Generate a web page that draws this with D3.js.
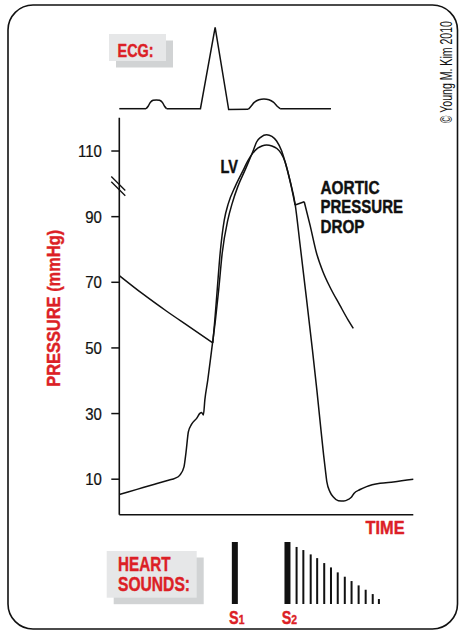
<!DOCTYPE html>
<html>
<head>
<meta charset="utf-8">
<script src="https://cdn.jsdelivr.net/npm/d3@7"></script>
<style>
  html, body { margin: 0; padding: 0; background: #fff; }
  svg { display: block; }
</style>
</head>
<body>
<svg id="chart" width="460" height="630"></svg>
<script>
// ---- data -------------------------------------------------------------
// time runs 0–100 over one cardiac cycle (arbitrary units); pressure in mmHg
const timeDomain = [0, 100];
const pressureDomain = [-1, 120];
const pressureTicks = [10, 30, 50, 70, 90, 110];
const axisBreakAt = 99;

// left-ventricular pressure
const lvPressure = [
  [0, 5.2], [6, 6.75], [12, 8.3], [17, 9.6], [18.9, 10.1], [20.6, 11.1], [22.0, 13.6],
  [22.7, 18.1], [23.5, 24.3], [24.6, 26.6], [26.3, 28.4], [27.4, 29.9], [28.0, 30.2],
  [28.6, 29.4], [29.1, 34.0], [30.1, 40.1], [31.4, 49.2], [32.7, 58.4], [33.8, 67.5],
  [35.0, 78.7], [36.9, 88.8], [38.4, 93.9], [40.3, 99.0], [42.8, 104.1], [44.1, 106.8],
  [45.4, 109.6], [46.7, 112.6], [48.2, 114.1], [50.1, 114.8], [51.9, 114.3], [53.5, 112.9],
  [55.2, 109.9], [56.4, 106.5], [58.1, 100.7], [59.8, 93.7], [61.5, 81.2], [63.2, 68.4],
  [65.7, 49.2], [67.2, 37.0], [68.6, 24.8], [69.5, 17.2], [70.1, 12.6], [70.6, 9.0],
  [71.7, 5.9], [72.8, 4.4], [74.5, 3.3], [76.4, 3.2], [77.9, 3.7], [79.0, 4.4],
  [79.8, 5.5], [81.9, 6.7], [84.1, 7.6], [88.7, 8.6], [93.2, 9.0], [100, 9.8]
];

// aortic pressure, one array per phase
const aorticDiastole = [[0, 71.9], [8, 66.3], [16, 61.1], [24, 56.2], [31.8, 51.4]];
const aorticEjection = [
  [31.8, 51.4], [32.5, 58.4], [33.3, 67.5], [34.3, 78.7], [35.7, 88.8], [37.1, 93.9],
  [39.4, 99.0], [42.2, 104.1], [43.8, 107.0], [45.4, 109.2], [47.2, 110.8], [48.5, 111.4],
  [50.1, 111.7], [51.9, 111.4], [53.6, 110.6], [55.0, 109.2], [56.4, 106.5], [58.1, 100.6],
  [59.8, 93.4]
];
const aorticIncisura = [[59.8, 93.4], [62.9, 94.4]];
const aorticRunoff = [
  [62.9, 94.4], [64.9, 87.2], [67.1, 78.7], [69.3, 73.0], [71.6, 68.5], [75.0, 62.9],
  [77.8, 58.4], [79.6, 55.8]
];

// ECG trace (mV)
const ecgLead = [[0, 0], [9.1, 0]];
const ecgPWave = [[9.1, 0], [9.8, 0.03], [10.6, 0.08], [11.5, 0.103], [12.6, 0.108],
                  [13.7, 0.103], [14.6, 0.08], [15.4, 0.03], [16.1, 0]];
const ecgQRS = [[16.1, 0], [27.6, 0], [32.6, 1], [37.2, -0.01], [43.9, -0.008]];
const ecgTWave = [[43.9, -0.008], [44.8, 0.03], [46.0, 0.08], [47.5, 0.11], [49.2, 0.12],
                  [50.9, 0.11], [52.4, 0.08], [53.7, 0.03], [54.7, 0]];
const ecgTail = [[54.7, 0], [72.0, 0]];

// heart sounds (relative intensity)
const soundLabels = ["1", "2"];
const soundMainTimes = [39.3, 57.2];
const soundMainAmps = [1, 1];
const s2TailTimes = [60.3, 62.6, 65.1, 67.3, 69.7, 72.0, 74.3, 76.7, 79.0, 81.4, 83.8, 86.2, 88.3];
const s2TailAmps = [0.92, 0.87, 0.80, 0.74, 0.66, 0.59, 0.51, 0.44, 0.37, 0.30, 0.23, 0.16, 0.08];

// ---- drawing ----------------------------------------------------------
const RED = "#dc1f26";
const INK = "#111";
const FONT = "'Liberation Sans', Arial, Helvetica, sans-serif";

const svg = d3.select("#chart");

const x = d3.scaleLinear().domain(timeDomain).range([119.3, 413.3]);
const y = d3.scaleLinear().domain(pressureDomain).range([514.8, 117.7]);
const ecgY = d3.scaleLinear().domain([0, 1]).range([108.7, 27.3]);
const soundY = d3.scaleLinear().domain([0, 1]).range([604, 542]);

// condensed label: the glyphs are squeezed to a fixed run length
function label(str, px, py, opt) {
  const o = Object.assign({ size: 19, weight: 700, fill: INK, anchor: "start", rotate: 0, heavy: 0.45 }, opt);
  const t = svg.append("text")
    .attr("transform", `translate(${px},${py})` + (o.rotate ? ` rotate(${o.rotate})` : ""))
    .attr("text-anchor", o.anchor)
    .attr("font-family", FONT).attr("font-weight", o.weight).attr("font-size", o.size)
    .attr("fill", o.fill).text(str);
  if (o.heavy) t.attr("stroke", o.fill).attr("stroke-width", o.heavy).attr("stroke-linejoin", "round");
  if (o.len) t.attr("textLength", o.len).attr("lengthAdjust", "spacingAndGlyphs");
  return t;
}

// outer frame
svg.append("rect")
  .attr("x", 8).attr("y", 5).attr("width", 449.5).attr("height", 624)
  .attr("rx", 25).attr("ry", 25)
  .attr("fill", "none").attr("stroke", INK).attr("stroke-width", 1.6);

// label boxes with drop shadow
function labelBox(bx, by, bw, bh) {
  svg.append("rect").attr("x", bx + 7).attr("y", by + 6.5).attr("width", bw).attr("height", bh)
    .attr("fill", "#d1d3d4");
  svg.append("rect").attr("x", bx).attr("y", by).attr("width", bw).attr("height", bh)
    .attr("fill", "#e6e7e8");
}
labelBox(109, 34, 57, 27);
label("ECG:", 117.6, 56.8, { fill: RED, len: 36 });
labelBox(106.7, 551, 90, 46.7);
label("HEART", 118, 571, { fill: RED, size: 20, len: 52.5 });
label("SOUNDS:", 118, 591.2, { fill: RED, size: 20, len: 72 });

// ECG
const ecgLine = d3.line().x(d => x(d[0])).y(d => ecgY(d[1]));
const ecgSmooth = d3.line().x(d => x(d[0])).y(d => ecgY(d[1])).curve(d3.curveCatmullRom);
const ecgG = svg.append("g").attr("fill", "none").attr("stroke", INK)
  .attr("stroke-width", 1.5).attr("stroke-linejoin", "miter");
[ecgLead, ecgQRS, ecgTail].forEach(seg => ecgG.append("path").attr("d", ecgLine(seg)));
[ecgPWave, ecgTWave].forEach(seg => ecgG.append("path").attr("d", ecgSmooth(seg)));

// axes
const tickSqueeze = 0.88;
const yAxis = d3.axisLeft(y).tickValues(pressureTicks).tickSize(8).tickPadding(9);
const yG = svg.append("g").attr("transform", `translate(${x(0)},0)`).call(yAxis);
yG.select(".domain").remove();
yG.selectAll(".tick line").attr("stroke", INK).attr("stroke-width", 1.5);
yG.selectAll(".tick text")
  .attr("font-family", FONT).attr("font-size", 17).attr("fill", INK)
  .attr("stroke", INK).attr("stroke-width", 0.25)
  .attr("x", -17.4 / tickSqueeze).attr("dy", "0.36em")
  .attr("transform", `scale(${tickSqueeze},1)`);

svg.append("line")
  .attr("x1", x(0)).attr("x2", x(0))
  .attr("y1", y(pressureDomain[0])).attr("y2", y(pressureDomain[1]))
  .attr("stroke", INK).attr("stroke-width", 1.6);
svg.append("line")
  .attr("x1", x(0)).attr("x2", x(timeDomain[1]))
  .attr("y1", y(pressureDomain[0])).attr("y2", y(pressureDomain[0]))
  .attr("stroke", INK).attr("stroke-width", 1.6);

// axis break marks
[-2.6, 2.6].forEach(off => {
  const cy = y(axisBreakAt) + off;
  svg.append("line")
    .attr("x1", x(0) - 8).attr("y1", cy - 7.5)
    .attr("x2", x(0) + 6).attr("y2", cy + 6.5)
    .attr("stroke", INK).attr("stroke-width", 1.3);
});

// axis titles
label("PRESSURE (mmHg)", 60, 308.3, { fill: RED, anchor: "middle", rotate: -90, len: 157 });
label("TIME", 404.6, 534.4, { fill: RED, anchor: "end", len: 39 });

// pressure curves
const smooth = d3.line().x(d => x(d[0])).y(d => y(d[1])).curve(d3.curveMonotoneX);
const straight = d3.line().x(d => x(d[0])).y(d => y(d[1]));
const curveG = svg.append("g").attr("fill", "none").attr("stroke", INK)
  .attr("stroke-width", 1.5).attr("stroke-linejoin", "round");
curveG.append("path").attr("d", smooth(lvPressure));
curveG.append("path").attr("d", smooth(aorticDiastole));
curveG.append("path").attr("d", smooth(aorticEjection));
curveG.append("path").attr("d", straight(aorticIncisura));
curveG.append("path").attr("d", smooth(aorticRunoff));

// curve annotations
label("LV", 220.5, 173.4, { len: 17.5 });
label("AORTIC", 320.5, 194, { len: 59 });
label("PRESSURE", 320.5, 213.4, { len: 82.5 });
label("DROP", 320.5, 232.8, { len: 44 });

// heart sounds
const soundG = svg.append("g").attr("fill", INK);
soundMainTimes.forEach((t, i) => {
  soundG.append("rect")
    .attr("x", x(t) - 3).attr("width", 6)
    .attr("y", soundY(soundMainAmps[i])).attr("height", soundY(0) - soundY(soundMainAmps[i]));
  const lab = svg.append("text")
    .attr("transform", `translate(${x(t) - 5.8},624.4) scale(0.8,1)`)
    .attr("font-family", FONT).attr("font-weight", 700).attr("fill", RED)
    .attr("stroke", RED).attr("stroke-width", 0.4);
  lab.append("tspan").attr("font-size", 18).text("S");
  lab.append("tspan").attr("font-size", 13).text(soundLabels[i]);
});
s2TailTimes.forEach((t, i) => {
  soundG.append("rect")
    .attr("x", x(t) - 1).attr("width", 2)
    .attr("y", soundY(s2TailAmps[i])).attr("height", soundY(0) - soundY(s2TailAmps[i]));
});

// credit line, set vertically along the right edge in a squeezed face
svg.append("text")
  .attr("transform", "translate(451.5,123.3) rotate(-90) scale(0.64,1)")
  .attr("font-family", FONT).attr("font-size", 16.5).attr("fill", INK)
  .text("\u00A9 Young M. Kim 2010");
</script>
</body>
</html>
